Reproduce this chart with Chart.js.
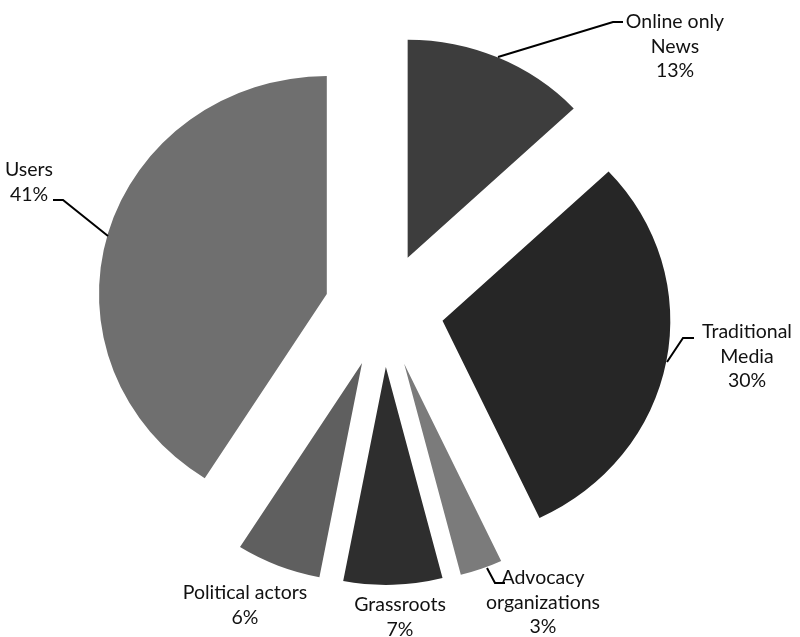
<!DOCTYPE html>
<html>
<head>
<meta charset="utf-8">
<script src="https://cdn.jsdelivr.net/npm/chart.js@4.4.1/dist/chart.umd.min.js"></script>
<style>
  html, body { margin: 0; padding: 0; background: #fff; }
  #wrap { width: 800px; height: 637px; position: relative; }
</style>
</head>
<body>
<div id="wrap"><canvas id="pieChart" width="800" height="637"></canvas></div>
<script>
// Data
const categories = ["Online only News", "Traditional Media", "Advocacy organizations", "Grassroots", "Political actors", "Users"];
const shares = [13, 30, 3, 7, 6, 41];
const sliceColors = ["#3d3d3d", "#262626", "#7b7b7b", "#2e2e2e", "#5f5f5f", "#6f6f6f"];

// label text lines, same order as categories
const labelLines = [
  ["Online only", "News"],
  ["Traditional", "Media"],
  ["Advocacy", "organizations"],
  ["Grassroots"],
  ["Political actors"],
  ["Users"],
];

// Layout of labels (text centre x, first line y) and leader lines
const labelPos = [
  { x: 675, y: 22, leader: [[498, 57], [613, 22], [623, 22]] },
  { x: 747, y: 332, leader: [[667, 362], [683, 338], [694, 338]] },
  { x: 543, y: 578, leader: [[487, 568], [495, 583], [505, 583]] },
  { x: 400, y: 605, leader: null },
  { x: 245, y: 593, leader: null },
  { x: 29, y: 170, leader: [[108, 236], [63, 200], [53, 200]] },
];

const EXPLODE = 57; // px each slice is pulled out
const STRETCH_X = 1.045; // the original pie is a little wider than tall
const LINE_H = 24.5;
const FONT = '19.5px Lato, "Open Sans", sans-serif';

// draw each arc shifted along its mid angle
const explodePlugin = {
  id: "explode",
  beforeDatasetDraw(chart, args) {
    const meta = args.meta;
    const ctx = chart.ctx;
    meta.data.forEach((el) => {
      const mid = (el.startAngle + el.endAngle) / 2;
      ctx.save();
      ctx.translate(el.x, el.y);
      ctx.scale(STRETCH_X, 1);
      ctx.translate(-el.x, -el.y);
      ctx.translate(Math.cos(mid) * EXPLODE, Math.sin(mid) * EXPLODE);
      el.draw(ctx);
      ctx.restore();
    });
    return false;
  },
};

const labelPlugin = {
  id: "pieLabels",
  afterDraw(chart) {
    const ctx = chart.ctx;
    ctx.save();
    ctx.font = FONT;
    ctx.fillStyle = "#111";
    ctx.textAlign = "center";
    ctx.textBaseline = "middle";
    ctx.strokeStyle = "#000";
    ctx.lineWidth = 2;
    categories.forEach((cat, i) => {
      const pos = labelPos[i];
      const lines = labelLines[i].concat([shares[i] + "%"]);
      lines.forEach((t, j) => ctx.fillText(t, pos.x, pos.y + j * LINE_H));
      if (pos.leader) {
        ctx.beginPath();
        pos.leader.forEach((p, k) => (k === 0 ? ctx.moveTo(p[0], p[1]) : ctx.lineTo(p[0], p[1])));
        ctx.stroke();
      }
    });
    ctx.restore();
  },
};

const ctx = document.getElementById("pieChart").getContext("2d");
new Chart(ctx, {
  type: "pie",
  data: {
    labels: categories,
    datasets: [
      {
        data: shares,
        backgroundColor: sliceColors,
        borderWidth: 0,
      },
    ],
  },
  options: {
    responsive: false,
    animation: false,
    radius: 218,
    layout: { padding: { left: 0, right: 32, top: 0, bottom: 17 } },
    plugins: {
      legend: { display: false },
      tooltip: { enabled: false },
    },
  },
  plugins: [explodePlugin, labelPlugin],
});
</script>
</body>
</html>
